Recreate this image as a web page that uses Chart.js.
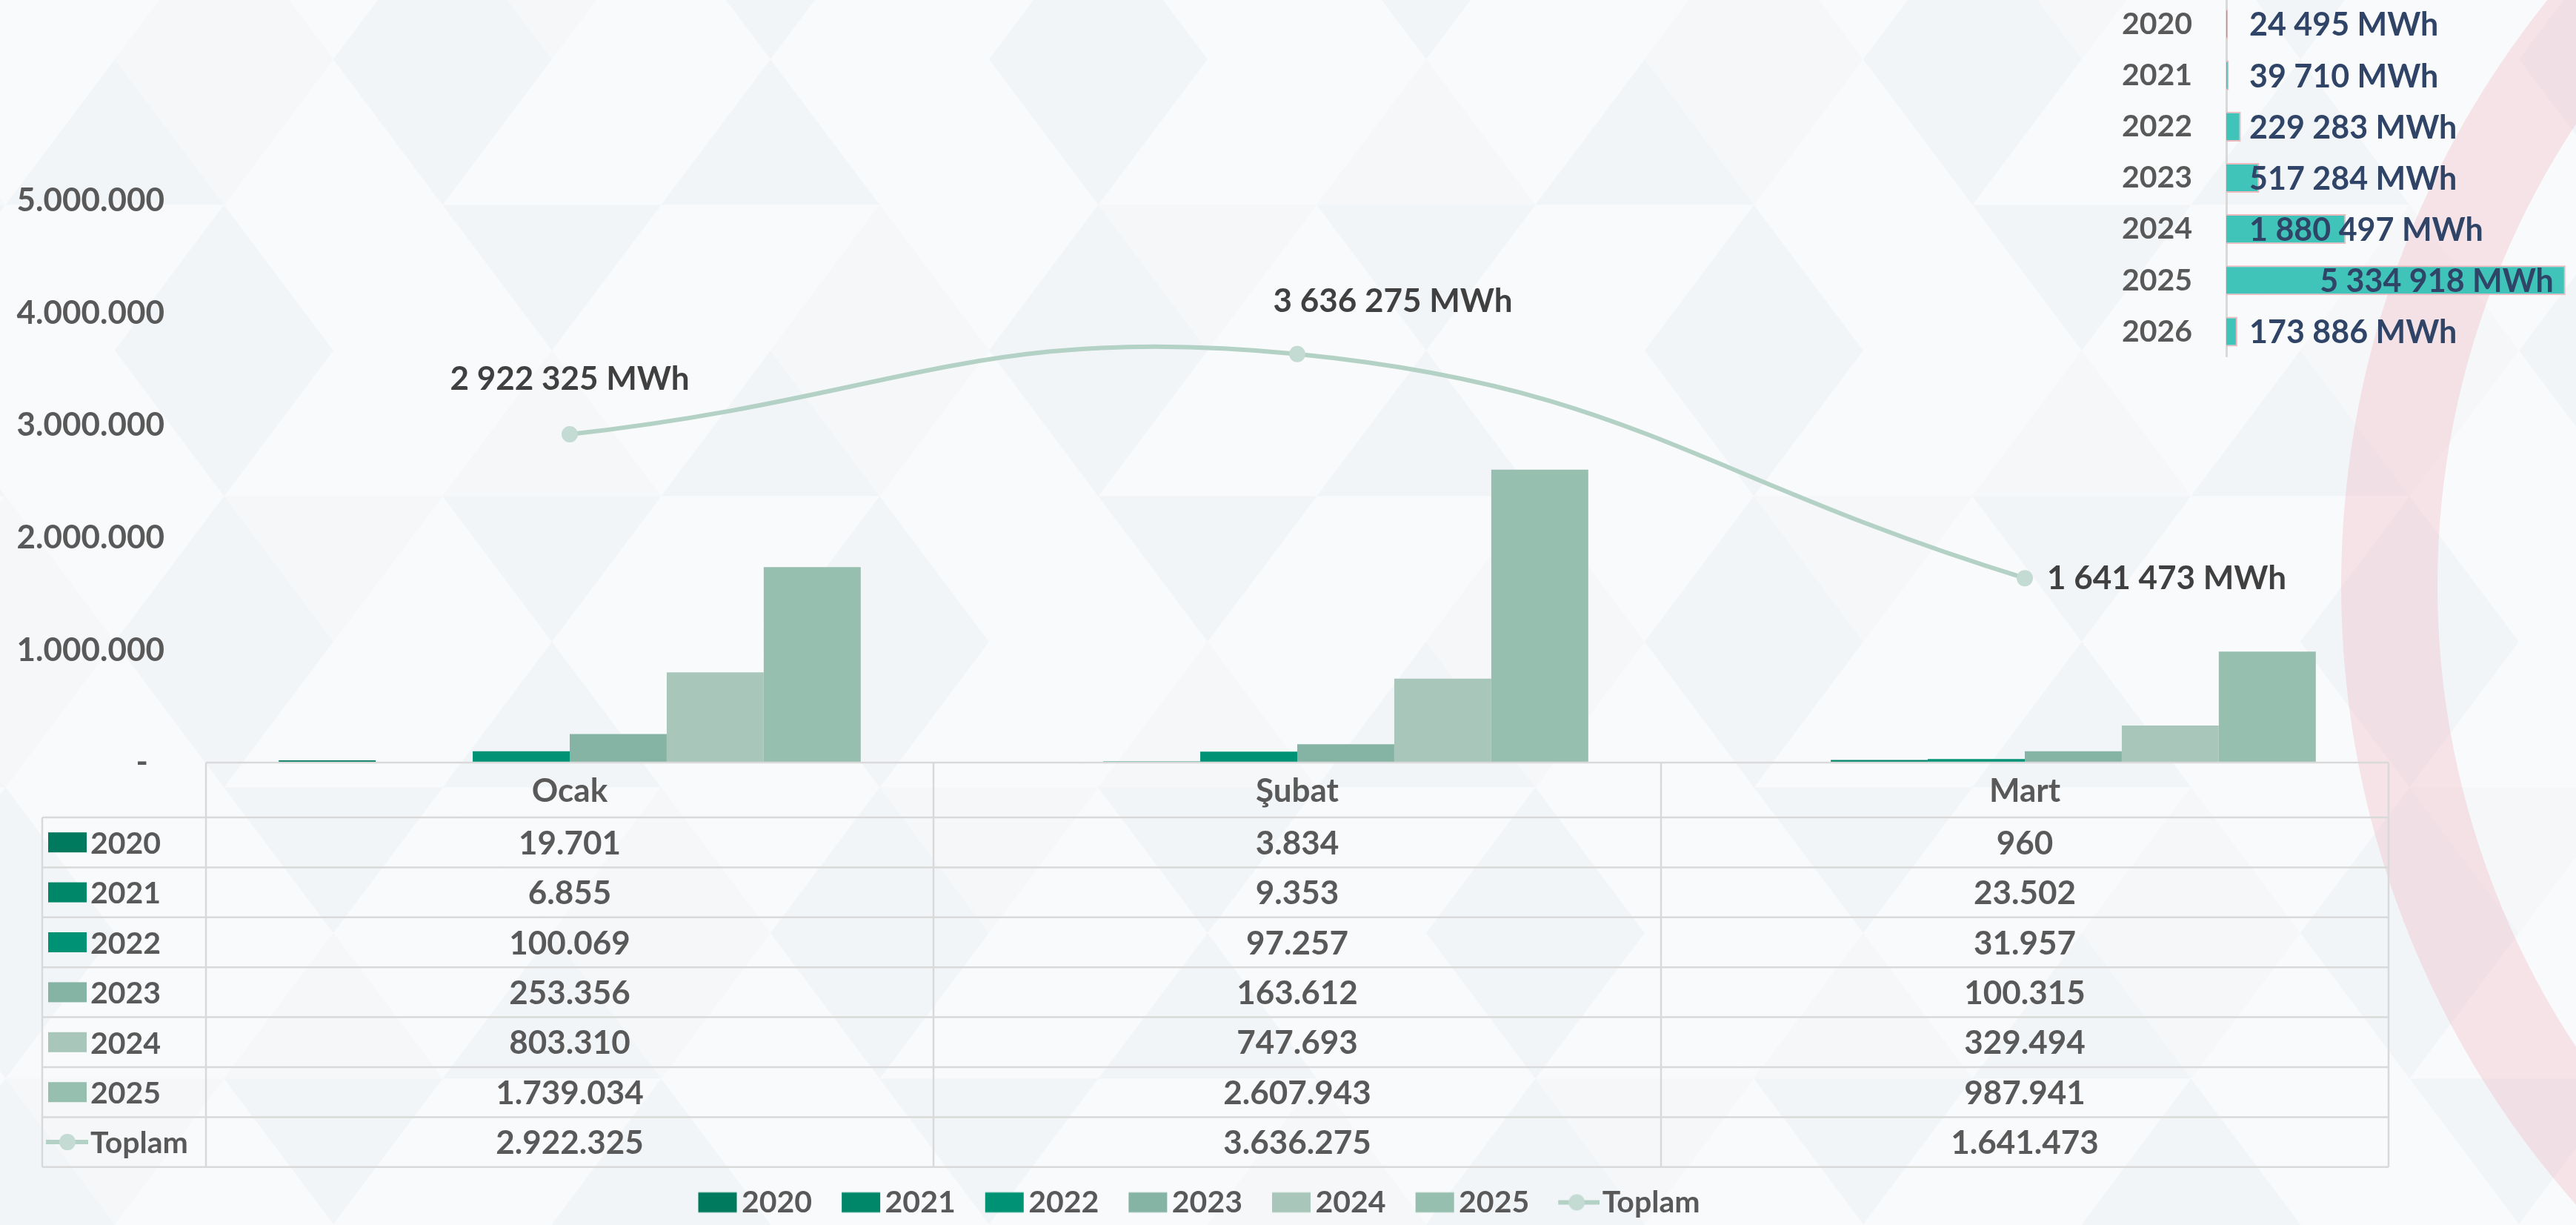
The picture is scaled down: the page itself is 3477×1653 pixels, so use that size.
<!DOCTYPE html>
<html>
<head>
<meta charset="utf-8">
<script src="https://cdn.jsdelivr.net/npm/chart.js@4.4.1/dist/chart.umd.min.js"></script>
<style>
html,body{margin:0;padding:0;width:3477px;height:1653px;overflow:hidden;background:#F8FAFB;}
canvas{position:absolute;}
#bg{left:0;top:0;}
#main{left:0;top:0;}
#inset{left:2780px;top:-2px;}
</style>
</head>
<body>
<canvas id="bg" width="3477" height="1653"></canvas>
<canvas id="main" width="3477" height="1653"></canvas>
<canvas id="inset" width="697" height="484"></canvas>
<script>
// ---------------- DATA ----------------
const months = ['Ocak', 'Şubat', 'Mart'];
const years = ['2020', '2021', '2022', '2023', '2024', '2025'];
const v2020 = [19701, 3834, 960];
const v2021 = [6855, 9353, 23502];
const v2022 = [100069, 97257, 31957];
const v2023 = [253356, 163612, 100315];
const v2024 = [803310, 747693, 329494];
const v2025 = [1739034, 2607943, 987941];
const toplam = [2922325, 3636275, 1641473];
const yTickValues = [0, 1000000, 2000000, 3000000, 4000000, 5000000];

const insetYears = ['2020', '2021', '2022', '2023', '2024', '2025', '2026'];
const insetTotals = [24495, 39710, 229283, 517284, 1880497, 5334918, 173886];

// ---------------- STYLE ----------------
const barSeries = [v2020, v2021, v2022, v2023, v2024, v2025];
const barColors = ['#007A5E', '#008669', '#009274', '#86B4A4', '#A8C7BA', '#97BFAF'];
const lineColor = '#B3D1C4';
const pointColor = '#C3DBD2';
const FONT = 'Lato';
const textGrey = '#595959';

function fmtDots(v) { return String(v).replace(/\B(?=(\d{3})+(?!\d))/g, '.'); }
function fmtSpaces(v) { return String(v).replace(/\B(?=(\d{3})+(?!\d))/g, ' '); }

// ---------------- BACKGROUND ----------------
(function drawBg() {
  const g = document.getElementById('bg').getContext('2d');
  g.fillStyle = '#F8F9FB';
  g.fillRect(0, 0, 3477, 1653);
  const TW = 295, TH = 196.5, Y0 = 80;
  function tri(pts, j, k, t) {
    const h = (((j * 5 + k * 3 + t * 2) % 7) + 7) % 7;
    g.fillStyle = h < 2 ? '#F2F5F8' : (h === 2 ? '#F5F7F9' : '#F9FAFB');
    g.beginPath();
    g.moveTo(pts[0][0], pts[0][1]);
    g.lineTo(pts[1][0], pts[1][1]);
    g.lineTo(pts[2][0], pts[2][1]);
    g.closePath();
    g.fill();
  }
  for (let k = -1; k < 9; k++) {
    const yt = Y0 + k * TH, yb = yt + TH;
    const xt0 = (k % 2 === 0) ? 155 : 7.5;
    for (let j = -2; j < 14; j++) {
      const xt = xt0 + j * TW;
      tri([[xt, yt], [xt - TW / 2, yb], [xt + TW / 2, yb]], j, k, 0);
      tri([[xt, yt], [xt + TW, yt], [xt + TW / 2, yb]], j, k, 1);
    }
  }
  g.beginPath();
  g.arc(4420, 790, 1260, 0, Math.PI * 2);
  g.arc(4420, 790, 1130, 0, Math.PI * 2, true);
  g.fillStyle = 'rgba(236,168,178,0.28)';
  g.fill();
})();

// ---------------- LEGEND KEY IMAGES ----------------
function keyImage(kind, color) {
  const c = document.createElement('canvas');
  c.width = 85; c.height = 30;
  const g = c.getContext('2d');
  if (kind === 'bar') {
    g.fillStyle = color;
    g.fillRect(30, 1.5, 52, 27);
  } else {
    g.strokeStyle = lineColor; g.lineWidth = 6;
    g.beginPath(); g.moveTo(29, 15); g.lineTo(85, 15); g.stroke();
    g.fillStyle = pointColor;
    g.beginPath(); g.arc(54, 15, 11, 0, Math.PI * 2); g.fill();
  }
  return c;
}

// ---------------- PLUGINS ----------------
const dataTablePlugin = {
  id: 'dataTable',
  afterDraw(chart) {
    const ctx = chart.ctx;
    const xs = chart.scales.x;
    const top = chart.chartArea.bottom;
    const headH = 74, rowH = 67.4;
    const n = chart.data.labels.length;
    const colW = (xs.right - xs.left) / n;
    const keyLeft = 57;
    const rows = chart.data.datasets;
    const bottom = top + headH + rows.length * rowH;
    ctx.save();
    ctx.strokeStyle = '#D9D9D9';
    ctx.lineWidth = 2.5;
    function seg(x1, y1, x2, y2) { ctx.beginPath(); ctx.moveTo(x1, y1); ctx.lineTo(x2, y2); ctx.stroke(); }
    seg(xs.left, top, xs.right, top);
    for (let r = 0; r <= rows.length; r++) {
      const y = top + headH + r * rowH;
      seg(keyLeft, y, xs.right, y);
    }
    seg(keyLeft, top + headH, keyLeft, bottom);
    for (let c = 0; c <= n; c++) {
      const x = xs.left + c * colW;
      seg(x, top, x, bottom);
    }
    ctx.fillStyle = textGrey;
    ctx.textBaseline = 'middle';
    ctx.textAlign = 'center';
    ctx.font = 'bold 44px ' + FONT;
    chart.data.labels.forEach((l, i) => ctx.fillText(l, xs.getPixelForValue(i), top + headH / 2 + 2));
    rows.forEach((ds, r) => {
      const cy = top + headH + r * rowH + rowH / 2;
      if (ds.type === 'line') {
        ctx.strokeStyle = lineColor; ctx.lineWidth = 6;
        seg(62, cy, 119, cy);
        ctx.fillStyle = pointColor;
        ctx.beginPath(); ctx.arc(91, cy, 11, 0, Math.PI * 2); ctx.fill();
      } else {
        ctx.fillStyle = ds.backgroundColor;
        ctx.fillRect(65, cy - 13.5, 52, 27);
      }
      ctx.fillStyle = textGrey;
      ctx.font = 'bold 41px ' + FONT;
      ctx.textAlign = 'left';
      ctx.fillText(ds.label, 122, cy + 2);
      ctx.font = 'bold 44px ' + FONT;
      ctx.textAlign = 'center';
      ds.data.forEach((v, i) => ctx.fillText(fmtDots(v), xs.getPixelForValue(i), cy + 2));
    });
    ctx.restore();
  }
};

const lineLabelOffsets = [
  { dx: 0, dy: -74, align: 'center' },
  { dx: 129, dy: -71, align: 'center' },
  { dx: 30, dy: 1, align: 'left' }
];

const lineLabelPlugin = {
  id: 'lineLabels',
  afterDatasetsDraw(chart) {
    const ctx = chart.ctx;
    chart.data.datasets.forEach((ds, di) => {
      if (ds.type !== 'line') return;
      const meta = chart.getDatasetMeta(di);
      ctx.save();
      ctx.fillStyle = '#404040';
      ctx.font = 'bold 44px ' + FONT;
      ctx.textBaseline = 'middle';
      meta.data.forEach((pt, i) => {
        const o = lineLabelOffsets[i];
        ctx.textAlign = o.align;
        ctx.fillText(fmtSpaces(ds.data[i]) + ' MWh', pt.x + o.dx, pt.y + o.dy);
      });
      ctx.restore();
    });
  }
};

// ---------------- MAIN CHART ----------------
const keyImages = barColors.map(c => keyImage('bar', c)).concat([keyImage('line')]);

const datasets = years.map((y, i) => ({
  type: 'bar',
  label: y,
  data: barSeries[i],
  backgroundColor: barColors[i],
  borderWidth: 0,
  categoryPercentage: 0.8,
  barPercentage: 1.0,
  order: 1
}));
datasets.push({
  type: 'line',
  label: 'Toplam',
  data: toplam,
  borderColor: lineColor,
  borderWidth: 6,
  pointRadius: 11,
  pointBackgroundColor: pointColor,
  pointBorderWidth: 0,
  tension: 0.45,
  order: 0
});

new Chart(document.getElementById('main'), {
  data: { labels: months, datasets: datasets },
  options: {
    responsive: false,
    animation: false,
    devicePixelRatio: 1,
    events: [],
    layout: { padding: { top: 271, right: 253, left: 0, bottom: 0 } },
    plugins: {
      tooltip: { enabled: false },
      legend: {
        position: 'bottom',
        align: 'center',
        labels: {
          usePointStyle: true,
          pointStyleWidth: 51,
          padding: 27,
          color: textGrey,
          font: { family: FONT, weight: 'bold', size: 41 },
          generateLabels(chart) {
            const items = Chart.defaults.plugins.legend.labels.generateLabels(chart);
            items.forEach(it => { it.pointStyle = keyImages[it.datasetIndex]; });
            return items.sort((a, b) => a.datasetIndex - b.datasetIndex);
          }
        }
      }
    },
    scales: {
      x: {
        ticks: { display: false },
        grid: { display: false, drawTicks: false },
        border: { display: false },
        afterFit(s) { s.height = 546; s.paddingLeft = 0; s.paddingRight = 0; }
      },
      y: {
        min: 0,
        max: 5000000,
        grid: { display: false, drawTicks: false },
        border: { display: false },
        ticks: {
          padding: 56,
          color: textGrey,
          font: { family: FONT, weight: 'bold', size: 44 },
          callback: v => v === 0 ? '-\u2002' : fmtDots(v)
        },
        afterBuildTicks(s) { s.ticks = yTickValues.map(v => ({ value: v })); },
        afterFit(s) { s.width = 278; s.paddingTop = 0; s.paddingBottom = 0; }
      }
    }
  },
  plugins: [dataTablePlugin, lineLabelPlugin]
});

// ---------------- INSET CHART ----------------
const insetLabelPlugin = {
  id: 'insetLabels',
  afterDatasetsDraw(chart) {
    const ctx = chart.ctx;
    const meta = chart.getDatasetMeta(0);
    ctx.save();
    ctx.fillStyle = '#2F4466';
    ctx.font = 'bold 43px ' + FONT;
    ctx.textBaseline = 'middle';
    meta.data.forEach((bar, i) => {
      const txt = fmtSpaces(chart.data.datasets[0].data[i]) + ' MWh';
      const w = ctx.measureText(txt).width;
      if (bar.x - bar.base > w + 40) {
        ctx.textAlign = 'right';
        ctx.fillText(txt, bar.x - 16, bar.y + 2);
      } else {
        ctx.textAlign = 'left';
        ctx.fillText(txt, bar.base + 31, bar.y + 2);
      }
    });
    ctx.restore();
  }
};

new Chart(document.getElementById('inset'), {
  type: 'bar',
  data: {
    labels: insetYears,
    datasets: [{
      data: insetTotals,
      backgroundColor: '#40C4BA',
      borderColor: '#EBB9BE',
      borderWidth: 2,
      categoryPercentage: 0.58,
      barPercentage: 1.0
    }]
  },
  options: {
    indexAxis: 'y',
    responsive: false,
    animation: false,
    devicePixelRatio: 1,
    events: [],
    layout: { padding: 0 },
    plugins: { legend: { display: false }, tooltip: { enabled: false } },
    scales: {
      x: { display: false, min: 0, max: 5500000 },
      y: {
        grid: { display: false, drawTicks: false },
        border: { display: true, color: '#D9D9D9', width: 3 },
        ticks: { padding: 46, color: textGrey, font: { family: FONT, weight: 'bold', size: 41 } },
        afterFit(s) { s.width = 225; s.paddingTop = 0; s.paddingBottom = 0; }
      }
    }
  },
  plugins: [insetLabelPlugin]
});
</script>
</body>
</html>
